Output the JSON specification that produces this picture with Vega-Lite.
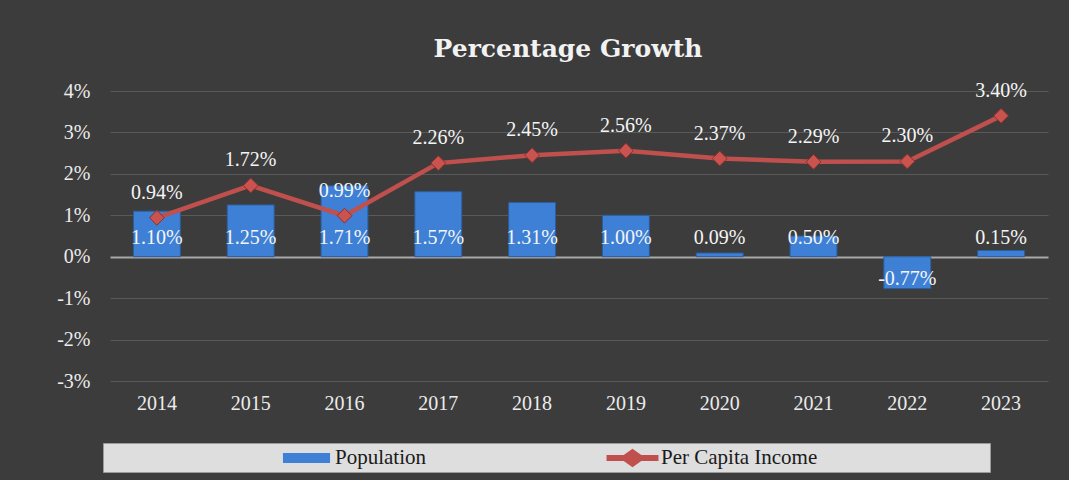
{
  "$schema": "https://vega.github.io/schema/vega-lite/v6.json",
  "width": 938,
  "height": 290,
  "autosize": "none",
  "padding": {"left": 110, "top": 91, "right": 21, "bottom": 99},
  "background": "#3c3c3c",
  "title": {
    "text": "Percentage Growth",
    "font": "DejaVu Serif",
    "fontSize": 25,
    "fontWeight": "bold",
    "color": "#f2f2f2",
    "anchor": "middle",
    "dx": -11,
    "offset": 19
  },
  "config": {
    "view": {"stroke": null},
    "locale": {"number": {"decimal": ".", "thousands": ",", "grouping": [3], "currency": ["$", ""], "minus": "-"}},
    "axis": {"labelFont": "Liberation Serif", "labelFontSize": 20, "labelColor": "#ececec", "domain": false, "ticks": false, "title": null},
    "legend": {"labelFont": "Liberation Serif", "labelFontSize": 21, "labelColor": "#1a1a1a", "labelLimit": 0}
  },
  "data": {
    "values": [
      {"year": "2014", "pop": 0.0110, "pci": 0.0094},
      {"year": "2015", "pop": 0.0125, "pci": 0.0172},
      {"year": "2016", "pop": 0.0171, "pci": 0.0099},
      {"year": "2017", "pop": 0.0157, "pci": 0.0226},
      {"year": "2018", "pop": 0.0131, "pci": 0.0245},
      {"year": "2019", "pop": 0.0100, "pci": 0.0256},
      {"year": "2020", "pop": 0.0009, "pci": 0.0237},
      {"year": "2021", "pop": 0.0050, "pci": 0.0229},
      {"year": "2022", "pop": -0.0077, "pci": 0.0230},
      {"year": "2023", "pop": 0.0015, "pci": 0.0340}
    ]
  },
  "encoding": {
    "x": {
      "field": "year", "type": "nominal", "sort": null,
      "scale": {"paddingInner": 0.5, "paddingOuter": 0.25},
      "axis": {"labelAngle": 0, "labelPadding": 12, "grid": false}
    }
  },
  "layer": [
    {
      "mark": {"type": "bar", "stroke": "#2c5d9c", "strokeWidth": 1},
      "encoding": {
        "y": {
          "field": "pop", "type": "quantitative",
          "scale": {"domain": [-0.03, 0.04], "nice": false, "zero": false},
          "axis": {
            "format": ".0%", "values": [-0.03, -0.02, -0.01, 0, 0.01, 0.02, 0.03, 0.04],
            "labelPadding": 20,
            "gridColor": {"condition": {"test": "datum.value === 0", "value": "#a8a8a8"}, "value": "#595959"},
            "gridWidth": {"condition": {"test": "datum.value === 0", "value": 2}, "value": 1}
          }
        },
        "color": {
          "datum": "Population",
          "type": "nominal",
          "scale": {"domain": ["Population", "Per Capita Income"], "range": ["#3d80d6", "#c0504d"]},
          "legend": {
            "title": null,
            "orient": "none",
            "legendX": -7,
            "legendY": 352,
            "direction": "horizontal",
            "fillColor": "#dedede",
            "strokeColor": "#9a9a9a",
            "padding": 4,
            "symbolOffset": 188.5,
            "labelOffset": 17.5,
            "columnPadding": 6,
            "labelFont": "Liberation Serif",
            "labelFontSize": 21,
            "labelColor": "#1a1a1a",
            "labelLimit": 0,
            "symbolSize": 484,
            "symbolStrokeWidth": 0,
            "symbolType": {"expr": "datum.value == 'Population' ? 'M-2.14,-0.45H2.14V0.45H-2.14Z' : 'M-2.36,-0.27H-0.8L0,-0.85L0.8,-0.27H2.36V0.27H0.8L0,0.85L-0.8,0.27H-2.36Z'"},
            "labelExpr": "datum.label == 'Per Capita Income' ? datum.label + '\u2003\u2003\u2003\u2003\u2003\u2003\u2003\u2003\u200b' : datum.label"
          }
        }
      }
    },
    {
      "transform": [{"filter": "datum.pop >= 0"}],
      "mark": {"type": "text", "font": "Liberation Serif", "fontSize": 20, "color": "#f5f5f5", "dy": -19, "baseline": "middle"},
      "encoding": {
        "y": {"datum": 0, "type": "quantitative"},
        "text": {"field": "pop", "type": "quantitative", "format": ".2%"}
      }
    },
    {
      "transform": [{"filter": "datum.pop < 0"}],
      "mark": {"type": "text", "font": "Liberation Serif", "fontSize": 20, "color": "#f5f5f5", "dy": 22, "baseline": "middle"},
      "encoding": {
        "y": {"datum": 0, "type": "quantitative"},
        "text": {"field": "pop", "type": "quantitative", "format": ".2%"}
      }
    },
    {
      "mark": {"type": "line", "strokeWidth": 4.5},
      "encoding": {
        "y": {"field": "pci", "type": "quantitative"},
        "color": {"datum": "Per Capita Income", "type": "nominal"}
      }
    },
    {
      "mark": {"type": "point", "shape": "diamond", "filled": true, "size": 220, "opacity": 1, "stroke": "#8e2f2c", "strokeWidth": 1},
      "encoding": {
        "y": {"field": "pci", "type": "quantitative"},
        "fill": {"value": "#c9534f"}
      }
    },
    {
      "mark": {"type": "text", "font": "Liberation Serif", "fontSize": 20, "color": "#f5f5f5", "dy": -25, "baseline": "middle"},
      "encoding": {
        "y": {"field": "pci", "type": "quantitative"},
        "text": {"field": "pci", "type": "quantitative", "format": ".2%"}
      }
    }
  ]
}
